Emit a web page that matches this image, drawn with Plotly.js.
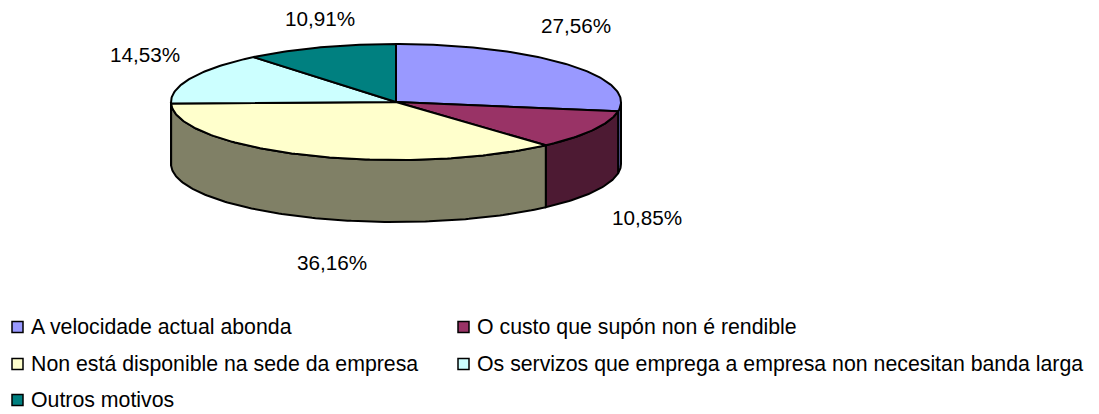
<!DOCTYPE html>
<html><head><meta charset="utf-8">
<script src="https://cdn.plot.ly/plotly-3.0.1.min.js"></script>
<style>html,body{margin:0;padding:0;background:#fff}#c{width:1099px;height:414px}</style>
</head><body><div id="c"></div>
<script>
const categories = ["A velocidade actual abonda","O custo que supón non é rendible","Non está disponible na sede da empresa","Os servizos que emprega a empresa non necesitan banda larga","Outros motivos"];
const values = [27.56,10.85,36.16,14.53,10.91];
const topColors = ["#9999FF","#993366","#FFFFCC","#CCFFFF","#008080"];
const sideColors = ["#5C5C99","#4D1A33","#808066","#668080","#004040"];
const labelX = [576,647,332,145,320];
const labelY = [25.5,217.5,262.5,54.5,18];
const legendX = [17.5,463.5,17.5,463.5,17.5];
const legendY = [327,327,364,364,400];
const legendTextY = [327,327,364,364,400];

const cx=396, cy=102, rx=225, ry=58, depth=62;
const total = values.reduce((a,b)=>a+b,0);
const px = a => cx+rx*Math.sin(a);
const py = a => cy-ry*Math.cos(a);
const line = {color:'#000',width:2};
function arc(a0,a1,dy){const n=Math.max(2,Math.ceil(Math.abs(a1-a0)*60));const xs=[],ys=[];
  for(let i=0;i<=n;i++){const a=a0+(a1-a0)*i/n;xs.push(px(a));ys.push(py(a)+dy);}return [xs,ys];}
const traces=[];
let start=0;const spans=values.map(v=>{const s=[start,start+v/total*2*Math.PI];start=s[1];return s;});
const H=Math.PI/2, T=3*Math.PI/2;
spans.forEach((s,i)=>{
  const a0=Math.max(s[0],H), a1=Math.min(s[1],T);
  if(a1<=a0) return;
  const [x1,y1]=arc(a0,a1,0), [x2,y2]=arc(a1,a0,depth);
  traces.push({type:'scatter',mode:'lines',x:[...x1,...x2,x1[0]],y:[...y1,...y2,y1[0]],fill:'toself',fillcolor:sideColors[i],line:line,hoverinfo:'skip',showlegend:false});
});
spans.forEach((s,i)=>{
  const [x1,y1]=arc(s[0],s[1],0);
  traces.push({type:'scatter',mode:'lines',x:[cx,...x1,cx],y:[cy,...y1,cy],fill:'toself',fillcolor:topColors[i],line:line,hoverinfo:'skip',showlegend:false});
});
traces.push({type:'scatter',mode:'markers',x:legendX,y:legendY,marker:{symbol:'square',size:11,color:topColors,line:{color:'#000',width:1.5}},hoverinfo:'skip',showlegend:false});
const fam='"Liberation Sans",Arial,sans-serif';
const labelFont={family:fam,size:20.7,color:'#000'};
const legendFont={family:fam,size:21.3,color:'#000'};
const annotations=[];
values.forEach((v,i)=>annotations.push({xref:'x',yref:'y',x:labelX[i],y:labelY[i],text:v.toFixed(2).replace('.',',')+'%',showarrow:false,font:labelFont,xanchor:'center',yanchor:'middle'}));
categories.forEach((c,i)=>annotations.push({xref:'x',yref:'y',x:legendX[i]+11,y:legendTextY[i],text:c,showarrow:false,font:legendFont,xanchor:'left',yanchor:'middle'}));
Plotly.newPlot('c',traces,{
  width:1099,height:414,margin:{l:0,r:0,t:0,b:0},paper_bgcolor:'#fff',plot_bgcolor:'#fff',
  xaxis:{range:[0,1099],visible:false,fixedrange:true},
  yaxis:{range:[414,0],visible:false,fixedrange:true},
  showlegend:false,annotations:annotations
},{displayModeBar:false,staticPlot:true});
</script></body></html>
